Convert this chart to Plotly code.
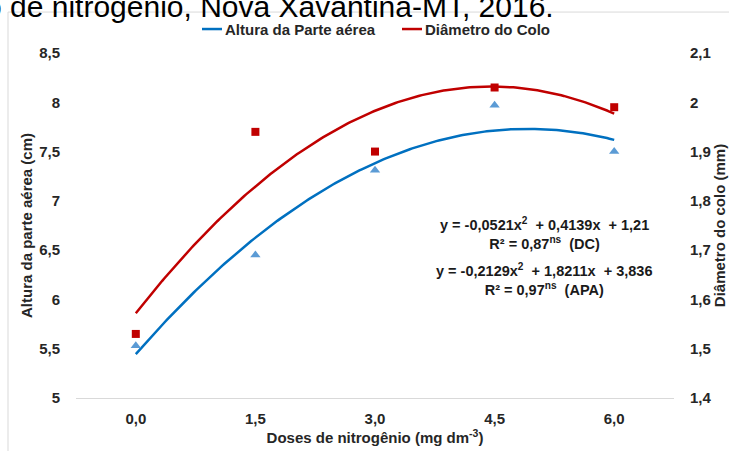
import numpy as np
import plotly.graph_objects as go

# ---- data ----
doses = ["0,0", "1,5", "3,0", "4,5", "6,0"]
pos = [1, 2, 3, 4, 5]  # category index used by the trendlines
apa = [5.53, 6.45, 7.31, 7.97, 7.50]       # Altura da parte aérea (cm)
dc = [1.53, 1.94, 1.90, 2.03, 1.99]        # Diâmetro do colo (mm)
apa_coef = [-0.2129, 1.8211, 3.836]        # trendline shown on chart
dc_coef = [-0.0521, 0.4139, 1.21]
left_ticks = [5, 5.5, 6, 6.5, 7, 7.5, 8, 8.5]
left_text = ["5", "5,5", "6", "6,5", "7", "7,5", "8", "8,5"]
right_ticks = [1.4, 1.5, 1.6, 1.7, 1.8, 1.9, 2.0, 2.1]
right_text = ["1,4", "1,5", "1,6", "1,7", "1,8", "1,9", "2", "2,1"]
series_names = ["Altura da Parte aérea", "Diâmetro do Colo"]

xs = np.linspace(pos[0], pos[-1], 200)
apa_fit = np.polyval(apa_coef, xs)
dc_fit = np.polyval(dc_coef, xs)

BLUE = "#0070C0"
RED = "#C00000"
TRI = "#5B9BD5"
FONT = "Liberation Sans, Arial, sans-serif"
TXT = "#262626"
FS = 15
bold = dict(family=FONT, size=FS, color=TXT, weight="bold")

fig = go.Figure()
fig.add_trace(go.Scatter(x=xs, y=apa_fit, mode="lines", name=series_names[0],
                         line=dict(color=BLUE, width=2.5), yaxis="y", showlegend=False))
fig.add_trace(go.Scatter(x=xs, y=dc_fit, mode="lines", name=series_names[1],
                         line=dict(color=RED, width=2.5), yaxis="y2", showlegend=False))
fig.add_trace(go.Scatter(x=pos, y=apa, mode="markers", showlegend=False,
                         marker=dict(symbol="triangle-up", color=TRI, size=9), yaxis="y"))
fig.add_trace(go.Scatter(x=pos, y=dc, mode="markers", showlegend=False,
                         marker=dict(symbol="square", color=RED, size=8), yaxis="y2"))

L, R, T, B = 76, 55, 53, 52.5
W, H = 729, 451
pw, ph = W - L - R, H - T - B

def px(x):
    return (x - L) / pw

def py(y):
    return (H - B - y) / ph

fig.update_layout(
    width=W, height=H,
    margin=dict(l=L, r=R, t=T, b=B, autoexpand=False),
    paper_bgcolor="white", plot_bgcolor="white",
    font=dict(family=FONT, size=FS, color=TXT),
    showlegend=False,
    xaxis=dict(range=[0.5, 5.5], tickvals=pos, ticktext=doses, showgrid=False,
               zeroline=False, showline=True, linecolor="#d9d9d9", linewidth=1,
               ticks="outside", ticklen=7, tickcolor="rgba(0,0,0,0)", automargin=False,
               tickfont=bold,
               title=dict(text="Doses de nitrogênio (mg dm<sup>-3</sup>)", standoff=2,
                          font=bold)),
    yaxis=dict(range=[5, 8.5], tickvals=left_ticks, ticktext=left_text, showgrid=False,
               zeroline=False, showline=False, ticks="outside", ticklen=12,
               tickcolor="rgba(0,0,0,0)", automargin=False, tickfont=bold,
               title=dict(text="Altura da parte aérea (cm)", standoff=2, font=bold)),
    yaxis2=dict(range=[1.4, 2.1], tickvals=right_ticks, ticktext=right_text, overlaying="y",
                side="right", showgrid=False, zeroline=False, showline=False,
                ticks="outside", ticklen=12, tickcolor="rgba(0,0,0,0)", automargin=False,
                tickfont=bold,
                title=dict(text="Diâmetro do colo (mm)", standoff=0, font=bold)),
)

# chart frame
fig.add_shape(type="rect", xref="paper", yref="paper",
              x0=px(8), y0=py(470), x1=px(740), y1=py(12),
              line=dict(color="#d9d9d9", width=1), fillcolor="rgba(0,0,0,0)", layer="below")

# legend (drawn)
for (x0, x1, col, name) in [(202, 222, BLUE, series_names[0]), (402, 422, RED, series_names[1])]:
    fig.add_shape(type="line", xref="paper", yref="paper", x0=px(x0), x1=px(x1),
                  y0=py(29), y1=py(29), line=dict(color=col, width=2.5))
    fig.add_annotation(xref="paper", yref="paper", x=px(x1 + 1), y=py(29), xanchor="left",
                       yanchor="middle", showarrow=False, text=name, font=bold)

# cut-off title above the chart
fig.add_annotation(xref="paper", yref="paper", x=px(556), y=py(25), xanchor="right",
                   yanchor="bottom", showarrow=False,
                   text="o de nitrogênio, Nova Xavantina-MT, 2016.",
                   font=dict(family=FONT, size=30, color="#000000"))

eq_font = dict(family=FONT, size=14.5, color="#1a1a1a", weight="bold")
fig.add_annotation(xref="paper", yref="paper", x=px(544), y=py(234), xanchor="center",
                   yanchor="middle", showarrow=False, font=eq_font,
                   text="y = -0,0521x<sup>2</sup>  + 0,4139x  + 1,21<br>R² = 0,87<sup>ns</sup>  (DC)")
fig.add_annotation(xref="paper", yref="paper", x=px(544), y=py(280), xanchor="center",
                   yanchor="middle", showarrow=False, font=eq_font,
                   text="y = -0,2129x<sup>2</sup>  + 1,8211x  + 3,836<br>R² = 0,97<sup>ns</sup>  (APA)")

fig.write_html("out.html", config={"displayModeBar": False},
               post_script="document.body.style.margin='0px';")
